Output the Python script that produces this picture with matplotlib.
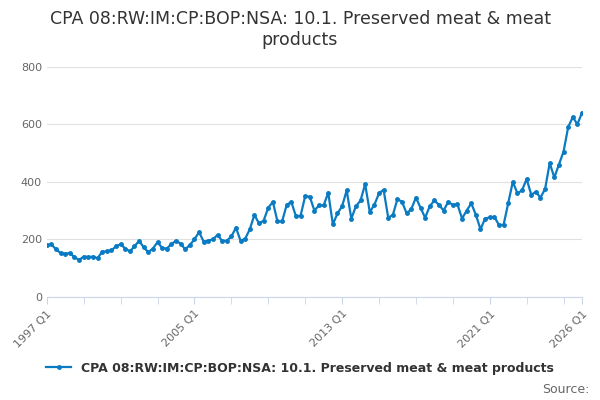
import numpy as np
import matplotlib.pyplot as plt

title = "CPA 08:RW:IM:CP:BOP:NSA: 10.1. Preserved meat & meat\nproducts"
series_name = "CPA 08:RW:IM:CP:BOP:NSA: 10.1. Preserved meat & meat products"
values = [
    180, 182, 165, 152,
    150, 152, 138, 128,
    140, 138, 140, 134,
    157, 158, 162, 175,
    183, 168, 158, 175,
    195, 172, 155, 168,
    190, 170, 168, 183,
    195, 185, 165, 180,
    200, 225, 192, 195,
    200, 215, 195, 195,
    210, 240, 195, 202,
    235, 285, 255, 265,
    310, 330, 262, 262,
    320, 330, 280, 282,
    350, 348, 300, 318,
    318, 362, 252, 290,
    315, 370, 272, 315,
    335, 392, 295, 320,
    360, 372, 275, 285,
    340, 330, 290, 305,
    345, 310, 275, 315,
    335, 320, 300, 330,
    320, 322, 272, 300,
    325, 285, 235, 272,
    276, 278, 250, 250,
    325, 400, 360, 370,
    410, 355, 365, 345,
    375, 465, 415, 460,
    505, 590, 625, 600,
    640,
]
tick_labels = ["1997 Q1", "2005 Q1", "2013 Q1", "2021 Q1", "2026 Q1"]
tick_pos = [0, 32, 64, 96, 116]

x = np.arange(len(values))
fig = plt.figure(figsize=(6, 4), dpi=100)
ax = fig.add_axes([0.078, 0.258, 0.892, 0.575])
color = "#0a7bc2"
ax.plot(x, values, color=color, lw=1.6, marker="o", ms=2.5, label=series_name)
ax.set_ylim(0, 800)
ax.set_xlim(0, 116)
ax.set_yticks([0, 200, 400, 600, 800])
ax.grid(axis="y", color="#e0e0e0", lw=0.8)
ax.set_axisbelow(True)
for s in ["top", "right", "left"]:
    ax.spines[s].set_visible(False)
ax.spines["bottom"].set_color("#ccd6eb")
ax.tick_params(axis="y", length=0, labelsize=8, colors="#666666")
ax.set_xticks(tick_pos)
ax.set_xticklabels(tick_labels, rotation=45, ha="right", rotation_mode="anchor", fontsize=8, color="#666666")
ax.set_xticks(np.arange(0, 117, 8), minor=True)
ax.tick_params(axis="x", which="both", length=5, color="#ccd6eb")
fig.suptitle(title, fontsize=12.5, color="#333333", y=0.975)
fig.legend(loc="lower center", bbox_to_anchor=(0.5, 0.035), frameon=False, fontsize=9,
           prop={"weight": "bold", "size": 9}, labelcolor="#333333")
fig.text(0.982, 0.01, "Source:", ha="right", va="bottom", fontsize=9, color="#666666")
fig.savefig("out.png")
